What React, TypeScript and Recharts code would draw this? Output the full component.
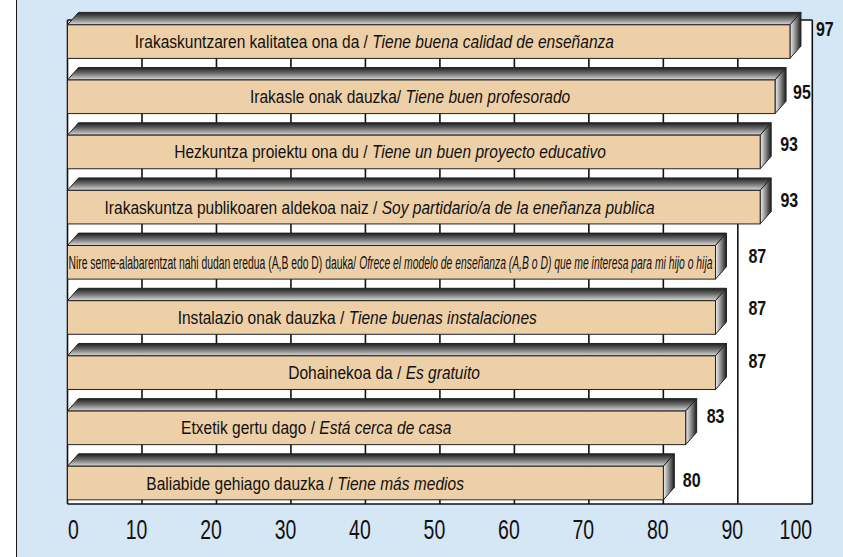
import React from 'react';
import { BarChart, Bar, XAxis, YAxis, CartesianGrid, LabelList } from 'recharts';

// ---- data ----
const basque = [
  'Irakaskuntzaren kalitatea ona da / ',
  'Irakasle onak dauzka/ ',
  'Hezkuntza proiektu ona du / ',
  'Irakaskuntza publikoaren aldekoa naiz / ',
  'Nire seme-alabarentzat nahi dudan eredua (A,B edo D) dauka/ ',
  'Instalazio onak dauzka / ',
  'Dohainekoa da / ',
  'Etxetik gertu dago / ',
  'Baliabide gehiago dauzka / ',
];
const spanish = [
  'Tiene buena calidad de enseñanza',
  'Tiene buen profesorado',
  'Tiene un buen proyecto educativo',
  'Soy partidario/a de la eneñanza publica',
  'Ofrece el modelo de enseñanza (A,B o D) que me interesa para mi hijo o hija',
  'Tiene buenas instalaciones',
  'Es gratuito',
  'Está cerca de casa',
  'Tiene más medios',
];
const values = [97, 95, 93, 93, 87, 87, 87, 83, 80];
const ticks = [0, 10, 20, 30, 40, 50, 60, 70, 80, 90, 100];

// ---- layout / style constants (not data) ----
const W = 843;
const H = 557;
const PLOT_LEFT = 67.5;
const PLOT_RIGHT = 812.3;
const PLOT_TOP = 20;
const PLOT_BOTTOM = 504;
const BAND_TOP = 7.4;
const DX3 = 11;
const DY3 = 12.4;
const FONT = "'Liberation Sans',Arial,sans-serif";
// where each inner caption is centred, in axis units (null = stretch over the bar)
const LABEL_CENTER: (number | null)[] = [41.2, 46, 43.3, 41.9, null, 38.9, 42.5, 33.4, 31.9];
// nudges for the value labels (px)
const VALUE_DX = [15, 7, 9, 9.3, 22, 22, 22, 10, 8.5];
const VALUE_DY = [4, 12.5, 9, 10, 10, 7, 5.5, 4.5, 14];
const TICK_NUDGE = (v: number) => (v === 0 ? 6 : v === 100 ? -16.5 : -5.5);

const data = values.map((v, i) => ({ name: basque[i] + spanish[i], value: v }));

function Bar3D(props: any) {
  const { x, y, width, height } = props;
  const fy = y + DY3;
  const fh = height - DY3;
  const x1 = x + width;
  return (
    <g>
      <polygon
        points={`${x},${fy} ${x + DX3},${y} ${x1 + DX3},${y} ${x1},${fy}`}
        fill="url(#topGrad)"
        stroke="#222"
        strokeWidth={1}
      />
      <polygon
        points={`${x1},${fy} ${x1 + DX3},${y} ${x1 + DX3},${y + fh} ${x1},${fy + fh}`}
        fill="url(#sideGrad)"
        stroke="#222"
        strokeWidth={1}
      />
      <rect x={x} y={fy} width={width} height={fh} fill="#EED0A8" stroke="#222" strokeWidth={1} />
    </g>
  );
}

function geom(props: any) {
  const vb = props.viewBox || {};
  return {
    x: props.x ?? vb.x,
    y: props.y ?? vb.y,
    width: props.width ?? vb.width,
    height: props.height ?? vb.height,
    index: props.index,
  };
}

function InnerLabel(props: any) {
  const { x, y, width, height, index } = geom(props);
  if (x == null || index == null) return null;
  const fy = y + DY3;
  const cy = fy + (height - DY3) / 2;
  const c = LABEL_CENTER[index];
  const content = [
    <tspan key="b">{basque[index]}</tspan>,
    <tspan key="s" fontStyle="italic">
      {spanish[index]}
    </tspan>,
  ];
  if (c == null) {
    return (
      <text
        x={x + 1}
        y={cy + 6.5}
        fontSize={18}
        fontFamily={FONT}
        fill="#111"
        textAnchor="start"
        textLength={width - 4}
        lengthAdjust="spacingAndGlyphs"
      >
        {content}
      </text>
    );
  }
  const cx = x + (width * c) / values[index];
  return (
    <g transform={`translate(${cx},${cy + 6.5}) scale(0.84,1)`}>
      <text x={0} y={0} fontSize={18.5} fontFamily={FONT} fill="#111" textAnchor="middle">
        {content}
      </text>
    </g>
  );
}

function ValueLabel(props: any) {
  const { x, y, width, index } = geom(props);
  if (x == null || index == null) return null;
  const lx = x + width + DX3 + VALUE_DX[index];
  const ly = y + DY3 + VALUE_DY[index] + 7;
  return (
    <g transform={`translate(${lx},${ly}) scale(0.82,1)`}>
      <text x={0} y={0} fontSize={19.5} fontWeight="bold" fontFamily={FONT} fill="#111" textAnchor="start">
        {values[index]}
      </text>
    </g>
  );
}

function TickLabel(props: any) {
  const { x, payload } = props;
  const v = payload.value;
  return (
    <g transform={`translate(${x + TICK_NUDGE(v)},${PLOT_BOTTOM + 35}) scale(0.72,1)`}>
      <text x={0} y={0} fontSize={27} fontFamily={FONT} fill="#111" textAnchor="middle">
        {v}
      </text>
    </g>
  );
}

export default function App() {
  return (
    <div style={{ position: 'absolute', left: 0, top: 0, width: W, height: H, background: '#fff', overflow: 'hidden' }}>
      <div
        style={{
          position: 'absolute',
          left: 16,
          top: 0,
          width: W - 16,
          height: H,
          background: '#d5e6f5',
          borderLeft: '1.5px solid #1a1a1a',
          boxSizing: 'border-box',
        }}
      />
      <div style={{ position: 'absolute', left: 0, top: 0 }}>
        <BarChart
          width={W}
          height={H}
          data={data}
          layout="vertical"
          margin={{ top: BAND_TOP, right: W - PLOT_RIGHT, bottom: H - PLOT_BOTTOM - 30, left: PLOT_LEFT }}
        >
          <defs>
            <linearGradient id="topGrad" x1="0" y1="0" x2="0" y2="1">
              <stop offset="0%" stopColor="#1e1e1e" />
              <stop offset="45%" stopColor="#6a6a6a" />
              <stop offset="100%" stopColor="#dcdcdc" />
            </linearGradient>
            <linearGradient id="sideGrad" x1="0" y1="0" x2="1" y2="0">
              <stop offset="0%" stopColor="#f2f2f2" />
              <stop offset="50%" stopColor="#8a8a8a" />
              <stop offset="100%" stopColor="#1a1a1a" />
            </linearGradient>
          </defs>
          <CartesianGrid
            y={PLOT_TOP}
            height={PLOT_BOTTOM - PLOT_TOP}
            fill="#ffffff"
            fillOpacity={1}
            stroke="#111"
            strokeWidth={1.6}
            strokeOpacity={1}
            horizontalPoints={[PLOT_TOP, PLOT_BOTTOM]}
          />
          <XAxis
            type="number"
            domain={[0, 100]}
            ticks={ticks}
            interval={0}
            axisLine={false}
            tickLine={false}
            height={30}
            tick={<TickLabel />}
          />
          <YAxis type="category" dataKey="name" hide />
          <Bar dataKey="value" barSize={46} shape={<Bar3D />} isAnimationActive={false}>
            <LabelList dataKey="value" content={<InnerLabel />} />
            <LabelList dataKey="value" content={<ValueLabel />} />
          </Bar>
        </BarChart>
      </div>
    </div>
  );
}
